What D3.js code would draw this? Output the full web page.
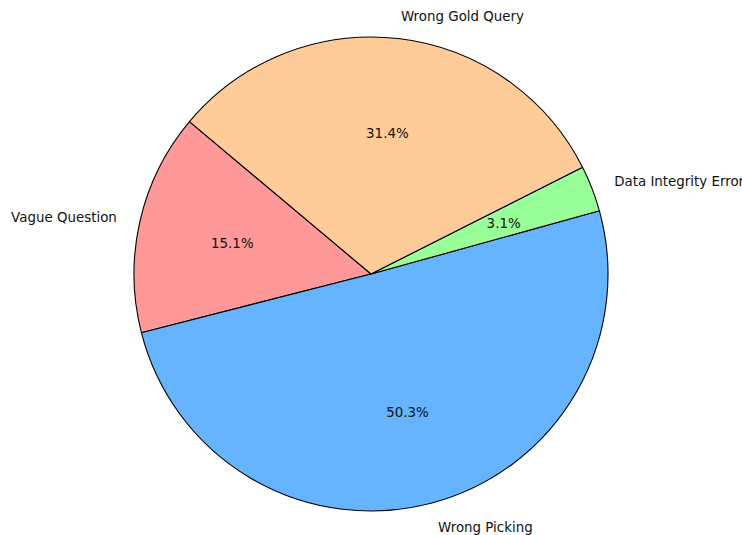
<!DOCTYPE html>
<html>
<head>
<meta charset="utf-8">
<title>Error categories</title>
<style>
  body { margin: 0; background: #fff; }
  text { font-family: "DejaVu Sans", sans-serif; font-size: 13.4px; fill: #111; }
</style>
</head>
<body>
<script src="https://cdn.jsdelivr.net/npm/d3@7"></script>
<script>
// DATA
var labels = ["Vague Question", "Wrong Picking", "Data Integrity Error", "Wrong Gold Query"];
var counts = [24, 80, 5, 50];
var colors = ["#ff9999", "#66b3ff", "#99ff99", "#ffcc99"];

var width = 742, height = 535;
var cx = 371, cy = 274, r = 237;

var svg = d3.select("body").append("svg")
  .attr("width", width)
  .attr("height", height);

var g = svg.append("g")
  .attr("transform", "translate(" + cx + "," + cy + ")");

// matplotlib startangle=140, counterclockwise
var start = (90 - 140) * Math.PI / 180;
var pie = d3.pie()
  .sort(null)
  .startAngle(start)
  .endAngle(start - 2 * Math.PI);

var arcs = pie(counts);
var total = d3.sum(counts);

var arc = d3.arc().innerRadius(0).outerRadius(r);

g.selectAll("path")
  .data(arcs)
  .enter().append("path")
  .attr("d", arc)
  .attr("fill", function(d, i) { return colors[i]; })
  .attr("stroke", "#000")
  .attr("stroke-width", 1.1)
  .attr("stroke-linejoin", "round");

function mid(d) { return (d.startAngle + d.endAngle) / 2; }

// outer labels
g.selectAll("text.lab")
  .data(arcs)
  .enter().append("text")
  .attr("class", "lab")
  .attr("x", function(d) { return 1.1 * r * Math.sin(mid(d)); })
  .attr("y", function(d) { return -1.1 * r * Math.cos(mid(d)) + 1; })
  .attr("dy", "0.35em")
  .attr("text-anchor", function(d) { return Math.sin(mid(d)) > 0 ? "start" : "end"; })
  .text(function(d, i) { return labels[i]; });

// percentages
g.selectAll("text.pct")
  .data(arcs)
  .enter().append("text")
  .attr("class", "pct")
  .attr("x", function(d) { return 0.6 * r * Math.sin(mid(d)); })
  .attr("y", function(d) { return -0.6 * r * Math.cos(mid(d)) + 1; })
  .attr("dy", "0.35em")
  .attr("text-anchor", "middle")
  .text(function(d) { return (d.value / total * 100).toFixed(1) + "%"; });
</script>
</body>
</html>
